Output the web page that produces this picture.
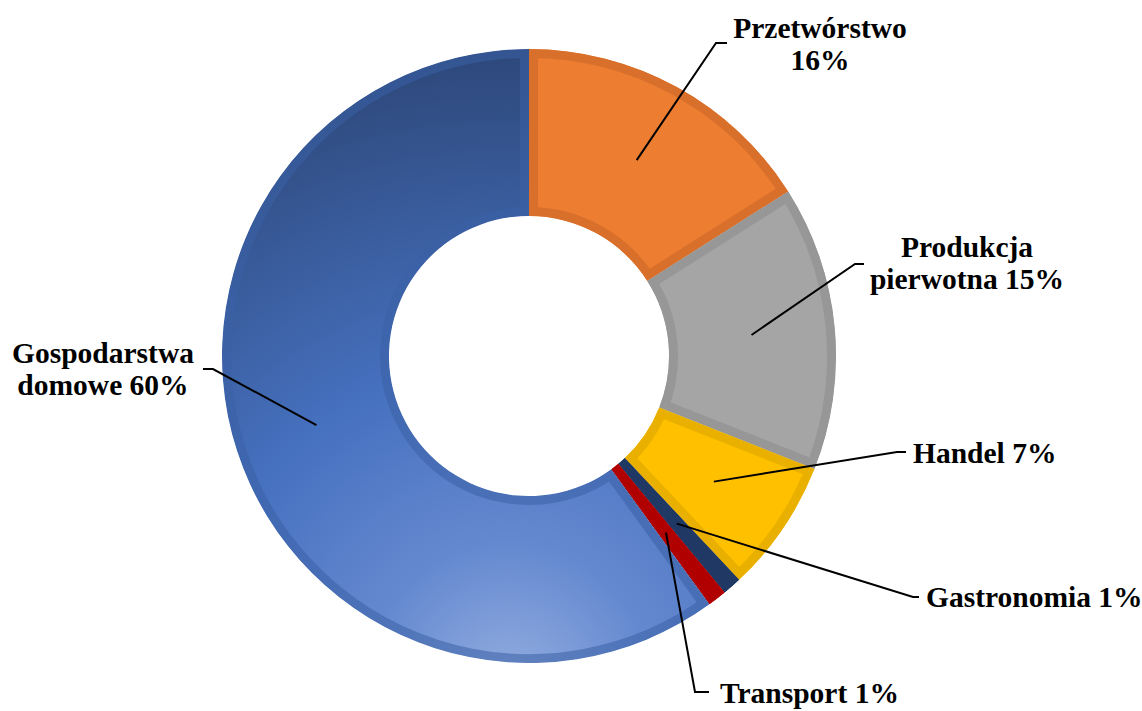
<!DOCTYPE html>
<html>
<head>
<meta charset="utf-8">
<script src="https://cdn.jsdelivr.net/npm/d3@7"></script>
<style>
  body { margin: 0; background: #fff; }
  text { font-family: 'Liberation Serif', 'Times New Roman', serif; font-weight: bold; fill: #000; }
</style>
</head>
<body>
<div id="chart"></div>
<script>
const categories = ['Przetwórstwo', 'Produkcja pierwotna', 'Handel', 'Gastronomia', 'Transport', 'Gospodarstwa domowe']
const values = [16, 15, 7, 1, 1, 60]
const labelLines = [
  ['Przetwórstwo', '16%'],
  ['Produkcja', 'pierwotna 15%'],
  ['Handel 7%'],
  ['Gastronomia 1%'],
  ['Transport 1%'],
  ['Gospodarstwa', 'domowe 60%']
]

const fillColors = ['#ed7d31', '#a5a5a5', '#ffc000', '#203864', '#c00000', 'url(#blueGrad)']
const borderColors = ['#d8702c', '#979797', '#e9b000', '#203864', '#b00000', '#3a61a6']

// where each label sits: text x, first baseline, anchor, elbow and tail of the leader
const labelLayout = [
  { x: 820, y: 38, anchor: 'middle', elbow: [716, 43], tail: [727, 43] },
  { x: 967, y: 257, anchor: 'middle', elbow: [855, 264], tail: [864, 264] },
  { x: 913, y: 463, anchor: 'start', elbow: [897, 452], tail: [906, 452] },
  { x: 926, y: 607, anchor: 'start', elbow: [913, 597], tail: [919, 597] },
  { x: 720, y: 703, anchor: 'start', elbow: [695, 692], tail: [709, 692] },
  { x: 103, y: 363, anchor: 'middle', elbow: [213, 369], tail: [203, 369] }
]

const width = 1142
const height = 711
const cx = 529
const cy = 356
const outerR = 307
const innerR = 140
const borderW = 9
const lineHeight = 32

const svg = d3
  .select('#chart')
  .append('svg')
  .attr('width', width)
  .attr('height', height)

const defs = svg.append('defs')

// coordinates are in the slice group's space (origin at the donut centre)
const grad = defs
  .append('radialGradient')
  .attr('id', 'blueGrad')
  .attr('gradientUnits', 'userSpaceOnUse')
  .attr('cx', -20)
  .attr('cy', 330)
  .attr('r', 640)
grad.append('stop').attr('offset', 0).attr('stop-color', '#93addf')
grad.append('stop').attr('offset', 0.22).attr('stop-color', '#6589d0')
grad.append('stop').attr('offset', 0.5).attr('stop-color', '#4671bf')
grad.append('stop').attr('offset', 1).attr('stop-color', '#2d4779')

const data = categories.map((c, i) => ({ name: c, value: values[i], i: i }))

const pie = d3
  .pie()
  .sort(null)
  .value(d => d.value)

const arc = d3
  .arc()
  .innerRadius(innerR)
  .outerRadius(outerR)

const arcs = pie(data)

const g = svg.append('g').attr('transform', 'translate(' + cx + ',' + cy + ')')

arcs.forEach(function(d, i) {
  defs
    .append('clipPath')
    .attr('id', 'clip' + i)
    .append('path')
    .attr('d', arc(d))
})

g.selectAll('.slice')
  .data(arcs)
  .enter()
  .append('path')
  .attr('class', 'slice')
  .attr('d', arc)
  .attr('fill', d => fillColors[d.data.i])
  .attr('stroke', d => borderColors[d.data.i])
  .attr('stroke-opacity', d => (d.data.i === 5 ? 0.55 : 1))
  .attr('stroke-width', borderW * 2)
  .attr('stroke-linejoin', 'round')
  .attr('clip-path', (d, i) => 'url(#clip' + i + ')')

// leader lines from slice centroids
const labels = svg.append('g')

arcs.forEach(function(d, i) {
  const c = arc.centroid(d)
  const lay = labelLayout[i]
  labels
    .append('polyline')
    .attr('points', [[cx + c[0], cy + c[1]], lay.elbow, lay.tail].map(p => p.join(',')).join(' '))
    .attr('fill', 'none')
    .attr('stroke', '#000')
    .attr('stroke-width', 2)

  const t = labels
    .append('text')
    .attr('x', lay.x)
    .attr('y', lay.y)
    .attr('text-anchor', lay.anchor)
    .attr('font-size', 29.5)

  labelLines[i].forEach(function(line, k) {
    t.append('tspan')
      .attr('x', lay.x)
      .attr('dy', k === 0 ? 0 : lineHeight)
      .text(line)
  })
})
</script>
</body>
</html>
